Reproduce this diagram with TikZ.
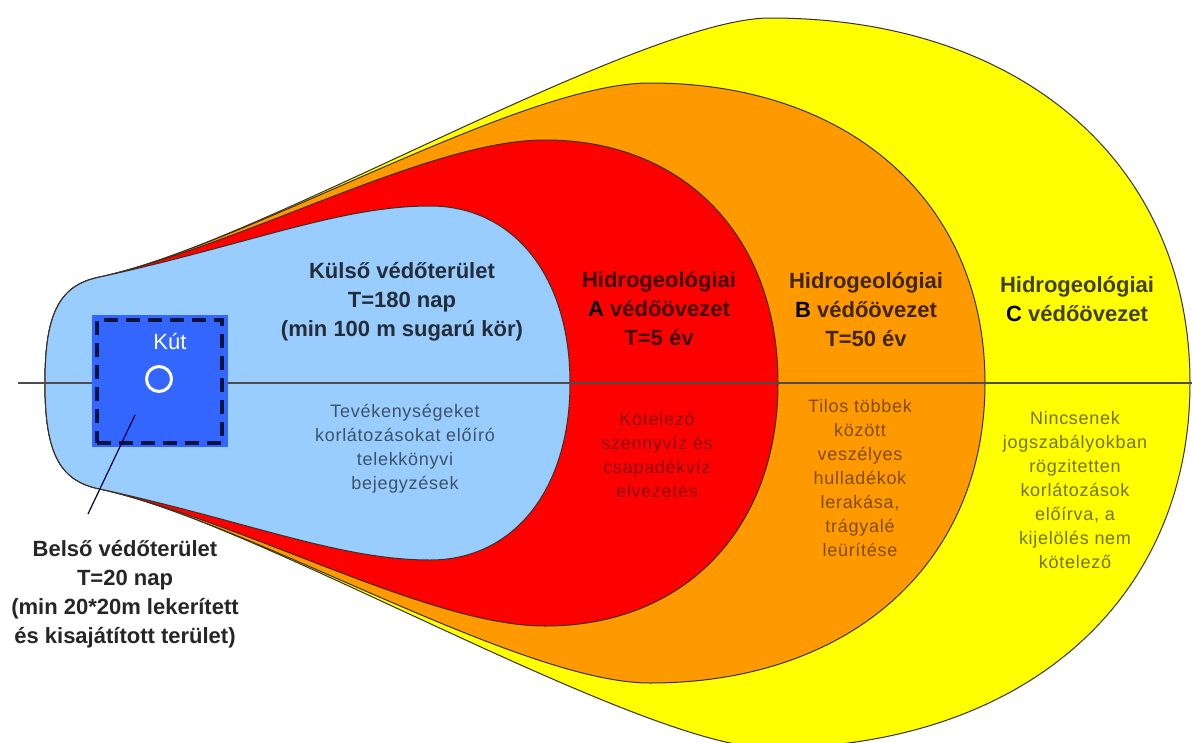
\documentclass[tikz,border=0pt]{standalone}
\usepackage{fontspec}
\setmainfont{Liberation Sans}
\definecolor{zyellow}{HTML}{FFFF00}
\definecolor{zorange}{HTML}{FF9900}
\definecolor{zred}{HTML}{FF0000}
\definecolor{zblue}{HTML}{99CCFF}
\definecolor{kutblue}{HTML}{3366FF}
\definecolor{dashcol}{HTML}{0A1440}
\definecolor{outline}{HTML}{3A3020}
\newcommand\kk{0.6}
% #1 fill, #2 top x, #3 y radius, #4 x radius, #5,#6 first control, #7 second control x
\newcommand\zonedraw[7]{%
  \path[zoneline, fill=#1] (45,383) .. controls (45,312) and (60,285) .. (100,277)
   .. controls (#5,#6) and (#7,{383-#3}) .. (#2,{383-#3})
   .. controls ({#2+\kk*#4},{383-#3}) and ({#2+#4},{383-\kk*#3}) .. ({#2+#4},383)
   .. controls ({#2+#4},{383+\kk*#3}) and ({#2+\kk*#4},{383+#3}) .. (#2,{383+#3})
   .. controls (#7,{383+#3}) and (#5,{766-#6}) .. (100,489)
   .. controls (60,481) and (45,454) .. (45,383) -- cycle;}
\begin{document}
\begin{tikzpicture}[x=1pt,y=-1pt,
  zoneline/.style={draw=outline, line width=1pt},
  ztitle/.style={font=\bfseries\fontsize{22}{29}\selectfont, align=center},
  zdesc/.style={font=\addfontfeature{LetterSpace=4}\fontsize{18}{24}\selectfont, align=center}]
\useasboundingbox (0,0) rectangle (1192,742);
\fill[white] (0,0) rectangle (1192,742);
% zones
\zonedraw{zyellow}{770}{365}{420}{250}{248}{640}
\zonedraw{zorange}{650}{300}{335}{250}{244}{520}
\zonedraw{zred}{545}{243}{233}{250}{242}{430}
\zonedraw{zblue}{430}{177}{140}{250}{244}{340}
% axis
\coordinate (axL) at (18,383);
\coordinate (axR) at (1192,383);
\draw[black!70, line width=1.3pt] (axL) -- (axR);
% well area
\node[fill=kutblue, minimum width=136pt, minimum height=132pt, inner sep=0pt] (sq) at (160,381) {};
\node[draw=dashcol, line width=3.5pt, dash pattern=on 14pt off 8pt, minimum width=125pt, minimum height=123pt, inner sep=0pt] (sqd) at (159.5,381.5) {};
\node[draw=white, line width=3pt, circle, minimum size=25pt, inner sep=0pt] (well) at (159,379) {};
\node[text=white, font=\fontsize{22}{26}\selectfont] (kut) at (170,342) {Kút};
% titles
\node[ztitle, text=zblue!22!black] (tblue) at (402,302) {Külső védőterület\\T=180 nap\\(min 100 m sugarú kör)};
\node[ztitle, text=zred!25!black] (tred) at (659,309) {Hidrogeológiai\\{\color{black}A} védőövezet\\T=5 év};
\node[ztitle, text=zorange!25!black] (torange) at (866,310) {Hidrogeológiai\\{\color{black}B} védőövezet\\T=50 év};
\node[ztitle, text=zyellow!25!black] (tyellow) at (1077,299) {Hidrogeológiai\\{\color{black}C} védőövezet};
% descriptions
\node[zdesc, text=zblue!40!black] (dblue) at (405,449) {Tevékenységeket\\korlátozásokat előíró\\telekkönyvi\\bejegyzések};
\node[zdesc, text=zred!55!black] (dred) at (657,455) {Kötelező\\szennyvíz és\\csapadékvíz\\elvezetés};
\node[zdesc, text=zorange!50!black] (dorange) at (860,478) {Tilos többek\\között\\veszélyes\\hulladékok\\lerakása,\\trágyalé\\leürítése};
\node[zdesc, text=zyellow!45!black] (dyellow) at (1075,490) {Nincsenek\\jogszabályokban\\rögzitetten\\korlátozások\\előírva, a\\kijelölés nem\\kötelező};
% inner zone label and pointer
\node[ztitle, text=black!85] (belso) at (125,594) {Belső védőterület\\T=20 nap\\(min 20*20m lekerített\\és kisajátított terület)};
\coordinate (ptrA) at (135,415);
\coordinate (ptrB) at (88,514);
\draw[black!75!blue, line width=1.2pt] (ptrA) -- (ptrB);
\end{tikzpicture}
\end{document}
